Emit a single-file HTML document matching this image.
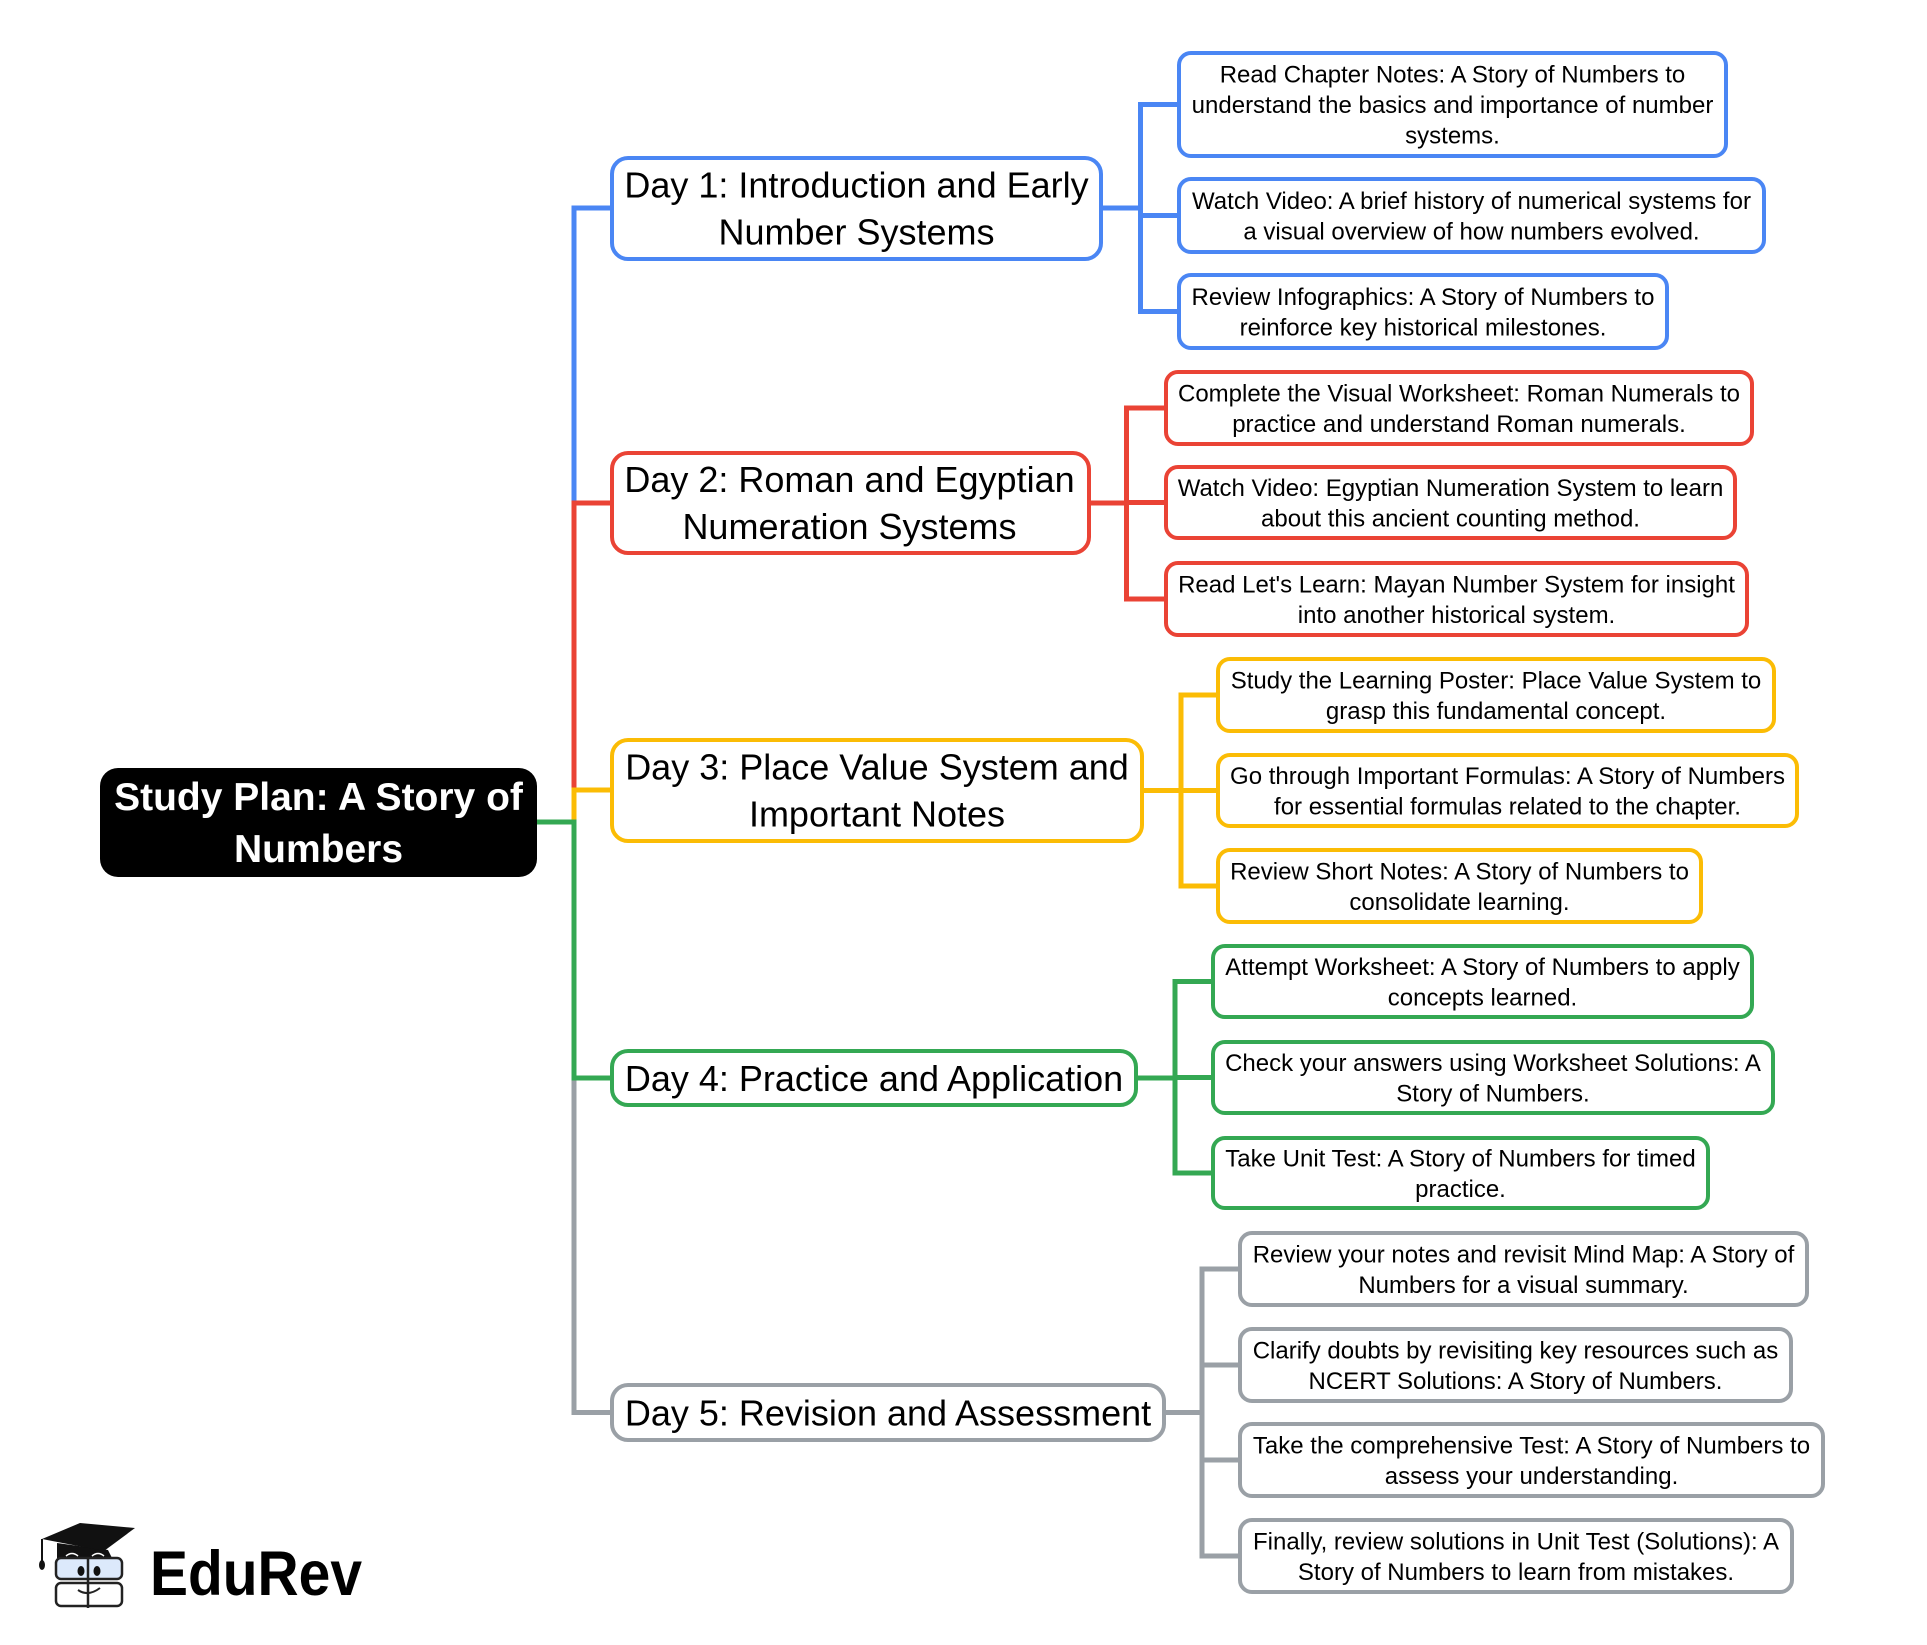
<!DOCTYPE html>
<html>
<head>
<meta charset="utf-8">
<style>
html,body{margin:0;padding:0;background:#fff;}
svg{display:block;}
text{font-family:"Liberation Sans", Arial, sans-serif;fill:#000;}
.c{font-size:24px;text-anchor:middle;}
.d{font-size:36px;text-anchor:middle;}
.r{font-size:39px;font-weight:bold;text-anchor:middle;fill:#fff;}
</style>
</head>
<body>
<svg width="1927" height="1645" viewBox="0 0 1927 1645" xmlns="http://www.w3.org/2000/svg">
<rect width="1927" height="1645" fill="#fff"/>
<g fill="none" stroke-width="5" stroke-linejoin="miter">
  <!-- blue -->
  <g stroke="#4A86F4">
    <path d="M574,503 V208 H612"/>
    <path d="M1101,208 H1140.5"/>
    <path d="M1179,104.5 H1140.5 V311.5 H1179"/>
    <path d="M1140.5,215.5 H1179"/>
  </g>
  <!-- red -->
  <g stroke="#EA4335">
    <path d="M574,790 V503 H612"/>
    <path d="M1087,503 H1126.5"/>
    <path d="M1166,408 H1126.5 V599 H1166"/>
    <path d="M1126.5,502.5 H1166"/>
  </g>
  <!-- yellow -->
  <g stroke="#FBBC05">
    <path d="M574,822 V790 H612"/>
    <path d="M1142,790.5 H1181"/>
    <path d="M1218,695 H1181 V886 H1218"/>
    <path d="M1181,790.5 H1218"/>
  </g>
  <!-- gray -->
  <g stroke="#9AA0A6">
    <path d="M574,1078 V1412.5 H612"/>
    <path d="M1164,1412.5 H1202"/>
    <path d="M1240,1269 H1202 V1556 H1240"/>
    <path d="M1202,1365 H1240"/>
    <path d="M1202,1460 H1240"/>
  </g>
  <!-- green -->
  <g stroke="#34A853">
    <path d="M535,822 H574 V1078 H612"/>
    <path d="M1136,1078 H1175"/>
    <path d="M1213,981.5 H1175 V1173 H1213"/>
    <path d="M1175,1077.5 H1213"/>
  </g>
</g>

<!-- root -->
<rect x="100" y="768" width="437" height="109" rx="18" fill="#000"/>
<text class="r" x="318.5" y="810">Study Plan: A Story of</text>
<text class="r" x="318.5" y="862">Numbers</text>

<!-- day boxes -->
<g fill="#fff" stroke-width="4">
  <rect x="612" y="158" width="489" height="101" rx="16" stroke="#4A86F4"/>
  <rect x="612" y="453" width="477" height="100" rx="16" stroke="#EA4335"/>
  <rect x="612" y="740" width="530" height="101" rx="16" stroke="#FBBC05"/>
  <rect x="612" y="1051" width="524" height="54" rx="16" stroke="#34A853"/>
  <rect x="612" y="1385" width="552" height="55" rx="16" stroke="#9AA0A6"/>
</g>
<text class="d" x="856.5" y="197.5">Day 1: Introduction and Early</text>
<text class="d" x="856.5" y="244.5">Number Systems</text>
<text class="d" x="849.5" y="492">Day 2: Roman and Egyptian</text>
<text class="d" x="849.5" y="539">Numeration Systems</text>
<text class="d" x="877" y="779.5">Day 3: Place Value System and</text>
<text class="d" x="877" y="826.5">Important Notes</text>
<text class="d" x="874" y="1091">Day 4: Practice and Application</text>
<text class="d" x="888" y="1425.5">Day 5: Revision and Assessment</text>

<!-- child boxes -->
<g fill="#fff" stroke-width="4">
  <g stroke="#4A86F4">
    <rect x="1179" y="53" width="547" height="103" rx="12"/>
    <rect x="1179" y="179" width="585" height="73" rx="12"/>
    <rect x="1179" y="275" width="488" height="73" rx="12"/>
  </g>
  <g stroke="#EA4335">
    <rect x="1166" y="372" width="586" height="72" rx="12"/>
    <rect x="1166" y="467" width="569" height="71" rx="12"/>
    <rect x="1166" y="563" width="581" height="72" rx="12"/>
  </g>
  <g stroke="#FBBC05">
    <rect x="1218" y="659" width="556" height="72" rx="12"/>
    <rect x="1218" y="755" width="579" height="71" rx="12"/>
    <rect x="1218" y="850" width="483" height="72" rx="12"/>
  </g>
  <g stroke="#34A853">
    <rect x="1213" y="946" width="539" height="71" rx="12"/>
    <rect x="1213" y="1042" width="560" height="71" rx="12"/>
    <rect x="1213" y="1138" width="495" height="70" rx="12"/>
  </g>
  <g stroke="#9AA0A6">
    <rect x="1240" y="1233" width="567" height="72" rx="12"/>
    <rect x="1240" y="1329" width="551" height="72" rx="12"/>
    <rect x="1240" y="1424" width="583" height="72" rx="12"/>
    <rect x="1240" y="1520" width="552" height="72" rx="12"/>
  </g>
</g>

<!-- child texts -->
<text class="c" x="1452.5" y="82.5">Read Chapter Notes: A Story of Numbers to</text>
<text class="c" x="1452.5" y="113">understand the basics and importance of number</text>
<text class="c" x="1452.5" y="143.5">systems.</text>

<text class="c" x="1471.5" y="209">Watch Video: A brief history of numerical systems for</text>
<text class="c" x="1471.5" y="239.5">a visual overview of how numbers evolved.</text>

<text class="c" x="1423" y="305">Review Infographics: A Story of Numbers to</text>
<text class="c" x="1423" y="335.5">reinforce key historical milestones.</text>

<text class="c" x="1459" y="401.5">Complete the Visual Worksheet: Roman Numerals to</text>
<text class="c" x="1459" y="432">practice and understand Roman numerals.</text>

<text class="c" x="1450.5" y="496">Watch Video: Egyptian Numeration System to learn</text>
<text class="c" x="1450.5" y="526.5">about this ancient counting method.</text>

<text class="c" x="1456.5" y="592.5">Read Let's Learn: Mayan Number System for insight</text>
<text class="c" x="1456.5" y="623">into another historical system.</text>

<text class="c" x="1496" y="688.5">Study the Learning Poster: Place Value System to</text>
<text class="c" x="1496" y="719">grasp this fundamental concept.</text>

<text class="c" x="1507.5" y="784">Go through Important Formulas: A Story of Numbers</text>
<text class="c" x="1507.5" y="814.5">for essential formulas related to the chapter.</text>

<text class="c" x="1459.5" y="879.5">Review Short Notes: A Story of Numbers to</text>
<text class="c" x="1459.5" y="910">consolidate learning.</text>

<text class="c" x="1482.5" y="975">Attempt Worksheet: A Story of Numbers to apply</text>
<text class="c" x="1482.5" y="1005.5">concepts learned.</text>

<text class="c" x="1493" y="1071">Check your answers using Worksheet Solutions: A</text>
<text class="c" x="1493" y="1101.5">Story of Numbers.</text>

<text class="c" x="1460.5" y="1166.5">Take Unit Test: A Story of Numbers for timed</text>
<text class="c" x="1460.5" y="1197">practice.</text>

<text class="c" x="1523.5" y="1262.5">Review your notes and revisit Mind Map: A Story of</text>
<text class="c" x="1523.5" y="1293">Numbers for a visual summary.</text>

<text class="c" x="1515.5" y="1358.5">Clarify doubts by revisiting key resources such as</text>
<text class="c" x="1515.5" y="1389">NCERT Solutions: A Story of Numbers.</text>

<text class="c" x="1531.5" y="1453.5">Take the comprehensive Test: A Story of Numbers to</text>
<text class="c" x="1531.5" y="1484">assess your understanding.</text>

<text class="c" x="1516" y="1549.5">Finally, review solutions in Unit Test (Solutions): A</text>
<text class="c" x="1516" y="1580">Story of Numbers to learn from mistakes.</text>

<!-- EduRev logo -->
<g>
  <path d="M57,1543 L108,1550 L112,1558 L57,1558 Z" fill="#111"/>
  <polygon points="42,1539 80,1523 135,1528 104,1551" fill="#111"/>
  <path d="M66,1556 Q72,1551 78,1556" stroke="#fff" stroke-width="1.5" fill="none"/>
  <path d="M92,1556 Q98,1551 104,1556" stroke="#fff" stroke-width="1.5" fill="none"/>
  <line x1="42" y1="1539" x2="42" y2="1562" stroke="#111" stroke-width="2"/>
  <ellipse cx="42" cy="1565" rx="3" ry="5" fill="#111"/>
  <rect x="56" y="1558" width="66" height="21" rx="5" fill="#dce9fb" stroke="#222" stroke-width="2.5"/>
  <ellipse cx="81" cy="1571" rx="3.5" ry="5" fill="#111"/>
  <ellipse cx="97" cy="1571" rx="3.5" ry="5" fill="#111"/>
  <rect x="56" y="1583" width="66" height="23" rx="5" fill="#fff" stroke="#222" stroke-width="2.5"/>
  <line x1="88" y1="1557" x2="88" y2="1608" stroke="#222" stroke-width="2.5"/>
  <path d="M78,1590 Q88,1597 100,1588" stroke="#222" stroke-width="2" fill="none"/>
  <text x="150" y="1595" font-size="63" font-weight="bold" fill="#111" textLength="212" lengthAdjust="spacingAndGlyphs">EduRev</text>
</g>
</svg>
</body>
</html>
